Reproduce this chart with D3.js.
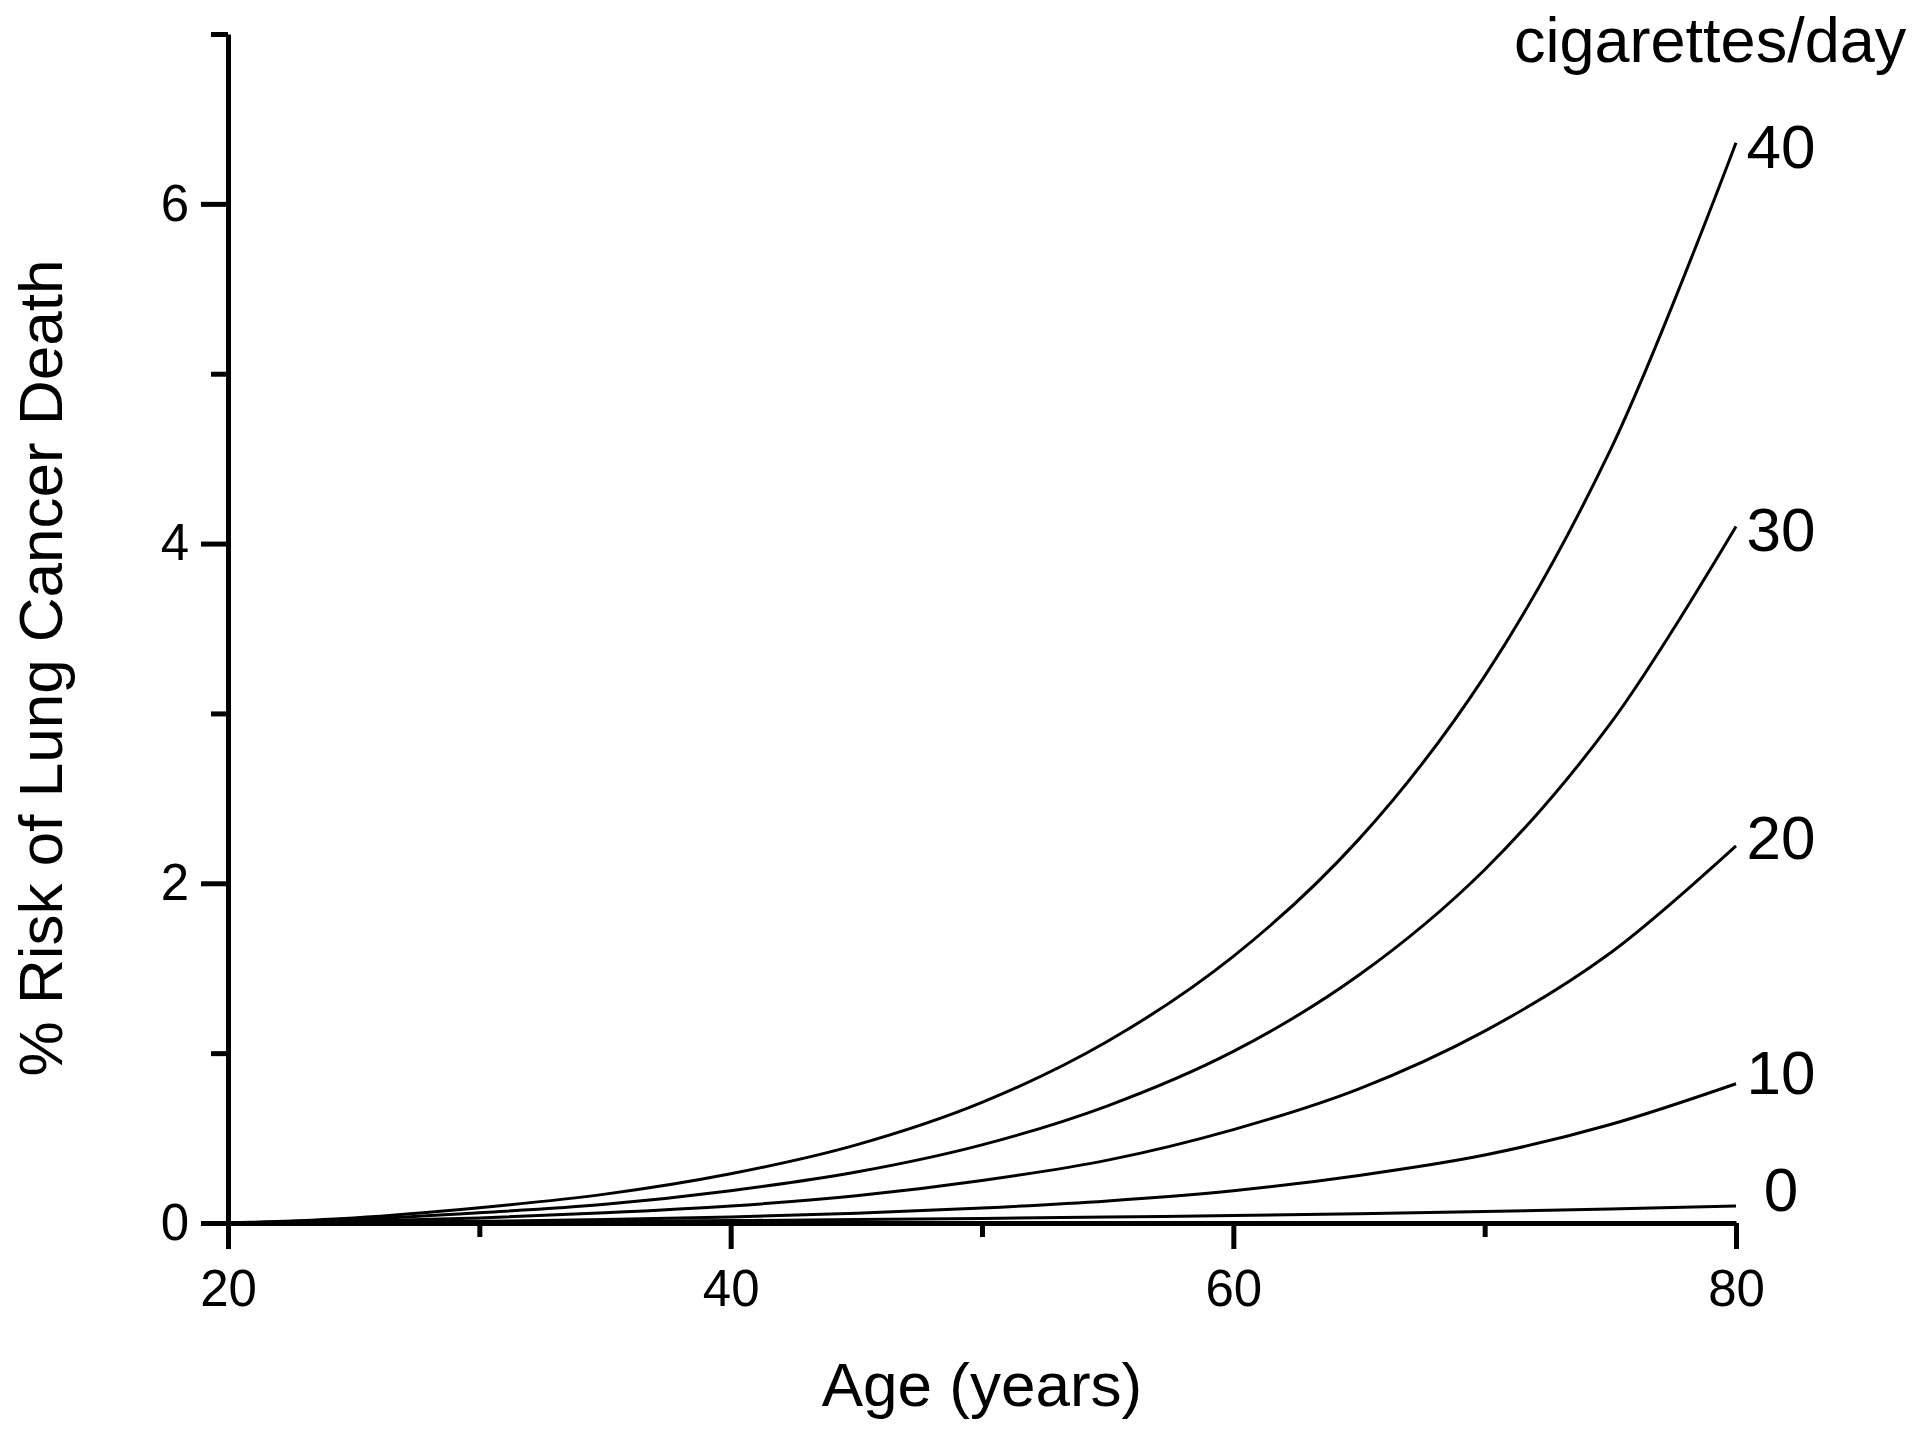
<!DOCTYPE html>
<html>
<head>
<meta charset="utf-8">
<script src="https://cdn.jsdelivr.net/npm/d3@7"></script>
<style>
  html, body { margin: 0; padding: 0; background: #fff; }
  svg { display: block; }
  text { font-family: "Liberation Sans", Arial, Helvetica, sans-serif; fill: #000; }
</style>
</head>
<body>
<svg id="chart" width="1920" height="1434"></svg>
<script>
// ---------------- data ----------------
const ages = [20, 25, 30, 35, 40, 45, 50, 55, 60, 65, 70, 75, 80];
const cig0  = [0, 0.002, 0.005, 0.009, 0.014, 0.020, 0.027, 0.035, 0.044, 0.055, 0.067, 0.082, 0.10];
const cig10 = [0, 0.004, 0.010, 0.020, 0.035, 0.057, 0.088, 0.13, 0.19, 0.28, 0.40, 0.58, 0.82];
const cig20 = [0, 0.010, 0.030, 0.060, 0.10, 0.16, 0.25, 0.37, 0.55, 0.79, 1.13, 1.59, 2.22];
const cig30 = [0, 0.020, 0.060, 0.11, 0.19, 0.30, 0.46, 0.69, 1.01, 1.46, 2.08, 2.94, 4.10];
const cig40 = [0, 0.030, 0.090, 0.17, 0.29, 0.46, 0.71, 1.07, 1.57, 2.26, 3.22, 4.55, 6.36];
const seriesLabels = ["0", "10", "20", "30", "40"];
const seriesValues = [cig0, cig10, cig20, cig30, cig40];
const xMajorTicks = [20, 40, 60, 80];
const xMinorTicks = [30, 50, 70];
const yMajorTicks = [0, 2, 4, 6];
const yMinorTicks = [1, 3, 5, 7];
const xTitle = "Age (years)";
const yTitle = "% Risk of Lung Cancer Death";
const legendTitle = "cigarettes/day";

// ---------------- layout ----------------
const X0 = 228, X1 = 1736, Y0 = 1223, Y1 = 34;
const labelBaselineOffset = [5, 10, 13, 24, 25]; // px below line end, per label
const svg = d3.select("#chart");

const x = d3.scaleLinear().domain([20, 80]).range([X0, X1]);
const y = d3.scaleLinear().domain([0, 7]).range([Y0, Y1]);

const axisStroke = 5;

function styleAxis(g) {
  g.selectAll("path.domain").attr("stroke", "#000").attr("stroke-width", axisStroke);
  g.selectAll(".tick line").attr("stroke", "#000").attr("stroke-width", axisStroke);
  g.selectAll(".tick text").attr("font-size", 51).attr("fill", "#000")
    .attr("font-family", '"Liberation Sans", Arial, sans-serif');
}

// minor ticks first
svg.append("g").attr("transform", `translate(0,${Y0})`)
  .call(d3.axisBottom(x).tickValues(xMinorTicks).tickSize(14).tickSizeOuter(0).tickFormat(""))
  .call(styleAxis).call(g => g.select(".domain").remove());
svg.append("g").attr("transform", `translate(${X0},0)`)
  .call(d3.axisLeft(y).tickValues(yMinorTicks).tickSize(17).tickSizeOuter(0).tickFormat(""))
  .call(styleAxis).call(g => g.select(".domain").remove());

// major axes
svg.append("g").attr("transform", `translate(0,${Y0})`)
  .call(d3.axisBottom(x).tickValues(xMajorTicks).tickSize(26).tickSizeOuter(0).tickPadding(21).tickFormat(d3.format("d")))
  .call(styleAxis);
svg.append("g").attr("transform", `translate(${X0},0)`)
  .call(d3.axisLeft(y).tickValues(yMajorTicks).tickSize(27).tickSizeOuter(0).tickPadding(12).tickFormat(d3.format("d")))
  .call(styleAxis);

// curves
const line = d3.line()
  .x((d, i) => x(ages[i]))
  .y(d => y(Math.max(0, d)))
  .curve(d3.curveCatmullRom.alpha(0.5));

svg.append("g").selectAll("path.series")
  .data(seriesValues)
  .join("path")
  .attr("class", "series")
  .attr("d", d => line(d))
  .attr("fill", "none")
  .attr("stroke", "#000")
  .attr("stroke-width", 3);

// series labels
svg.append("g").selectAll("text.slabel")
  .data(seriesValues)
  .join("text")
  .attr("class", "slabel")
  .attr("x", 1781)
  .attr("y", (d, i) => y(d[d.length - 1]) + labelBaselineOffset[i])
  .attr("text-anchor", "middle")
  .attr("font-size", 62)
  .text((d, i) => seriesLabels[i]);

// legend title
svg.append("text")
  .attr("x", 1514).attr("y", 62)
  .attr("font-size", 63)
  .text(legendTitle);

// axis titles
svg.append("text")
  .attr("x", (X0 + X1) / 2).attr("y", 1406)
  .attr("text-anchor", "middle")
  .attr("font-size", 62)
  .text(xTitle);

svg.append("text")
  .attr("transform", "translate(62,668) rotate(-90)")
  .attr("text-anchor", "middle")
  .attr("font-size", 62)
  .text(yTitle);
</script>
</body>
</html>
